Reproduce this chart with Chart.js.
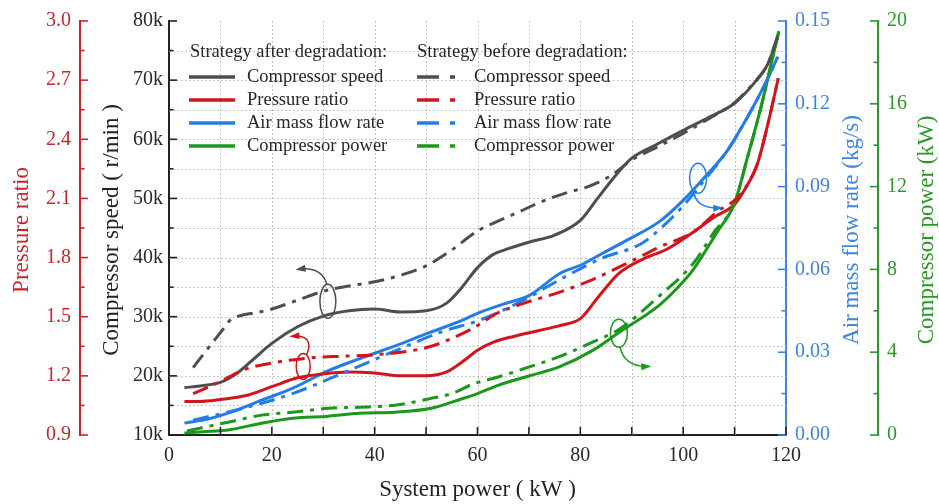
<!DOCTYPE html>
<html><head><meta charset="utf-8">
<script src="https://cdn.jsdelivr.net/npm/chart.js@4.4.0/dist/chart.umd.min.js"></script>
<style>html,body{margin:0;padding:0;background:#fff}#wrap{width:939px;height:504px;position:relative}</style>
</head><body><div id="wrap"><canvas id="c"></canvas></div>
<script>
// ---- tick labels ----
const xTicks = [0, 20, 40, 60, 80, 100, 120];
const speedTicks = [10000, 20000, 30000, 40000, 50000, 60000, 70000, 80000];
const prTicks = [0.9, 1.2, 1.5, 1.8, 2.1, 2.4, 2.7, 3.0];
const flowTicks = [0, 0.03, 0.06, 0.09, 0.12, 0.15];
const powerTicks = [0, 4, 8, 12, 16, 20];

// ---- series (x = system power, kW) ----
const speedAfterX = [3, 6, 10, 13, 16, 20, 25, 30, 35, 40, 45, 50, 54, 57, 60, 63, 66, 70, 75, 80, 83, 86.5, 90, 95, 100, 105, 110, 114, 116.5, 118.4];
const speedAfter  = [18000, 18300, 18900, 20300, 22500, 25500, 28300, 30100, 31000, 31300, 30800, 31000, 32300, 35000, 38300, 40500, 41500, 42600, 43800, 46300, 49600, 53500, 56800, 59200, 61500, 63700, 66100, 69700, 72800, 77300];
const speedBeforeX = [4.7, 7, 10, 12, 14, 17, 20, 25, 30, 35, 40, 45, 50, 55, 60, 63, 68, 72, 77.5, 81.5, 86, 90, 95, 100, 105, 110, 114, 116.5, 118.4];
const speedBefore  = [21400, 24000, 27300, 29500, 30200, 30700, 31300, 32800, 34300, 35200, 35900, 37000, 38600, 41300, 44500, 45800, 47700, 49300, 51000, 52000, 53900, 56500, 58700, 61000, 63500, 66200, 69800, 72800, 77500];

const prAfterX = [3, 6, 10, 15, 20, 25, 30, 35, 40, 45, 50, 54, 57, 60, 63, 67, 72, 76, 80, 83.5, 87.5, 92, 97, 102, 106, 110, 112, 114.5, 116.5, 118.5];
const prAfter  = [1.07, 1.07, 1.08, 1.10, 1.145, 1.19, 1.21, 1.22, 1.215, 1.20, 1.20, 1.22, 1.27, 1.33, 1.37, 1.40, 1.43, 1.455, 1.49, 1.60, 1.72, 1.79, 1.845, 1.93, 2.005, 2.07, 2.146, 2.28, 2.48, 2.71];
const prBeforeX = [4.7, 9.5, 15, 20, 27, 34, 40, 47, 51, 55, 59, 64, 69, 76, 82.5, 89, 95.5, 102, 107, 110, 112, 114.5, 116.5, 118.5];
const prBefore  = [1.11, 1.165, 1.235, 1.265, 1.29, 1.30, 1.307, 1.327, 1.35, 1.39, 1.44, 1.52, 1.568, 1.625, 1.69, 1.77, 1.855, 1.93, 2.04, 2.09, 2.15, 2.28, 2.48, 2.71];

const flowAfterX = [3, 8, 11.5, 18, 24, 31, 37, 44, 50.5, 57, 60, 65, 70, 76, 80, 84, 89, 95.5, 100, 104, 108.7, 112.6, 115.7, 118.4];
const flowAfter  = [0.0043, 0.006, 0.0079, 0.0126, 0.0169, 0.0233, 0.0276, 0.0323, 0.037, 0.0415, 0.0441, 0.0474, 0.0505, 0.0585, 0.0615, 0.0655, 0.0705, 0.0775, 0.085, 0.093, 0.1033, 0.1155, 0.1263, 0.137];
const flowBeforeX = [4.7, 14.5, 24, 34, 44, 53.5, 60, 68.5, 76, 84, 92, 96, 100, 104, 108.7, 112.6, 115.7, 118.4];
const flowBefore  = [0.0054, 0.0097, 0.015, 0.0226, 0.0305, 0.0377, 0.0413, 0.0484, 0.0563, 0.0639, 0.0695, 0.0755, 0.083, 0.092, 0.1033, 0.1155, 0.1263, 0.137];

const powerAfterX = [3, 8, 11.5, 18, 24, 31, 37, 44, 51, 57, 60, 64, 70, 76, 82.5, 87.5, 95.5, 100, 102, 106.6, 110, 112.6, 115.2, 117, 118.6];
const powerAfter  = [0.1, 0.18, 0.24, 0.57, 0.81, 0.91, 1.05, 1.1, 1.29, 1.75, 2.0, 2.4, 2.85, 3.3, 4.1, 4.95, 6.3, 7.4, 8.0, 9.8, 11.2, 13.5, 15.9, 17.8, 19.5];
const powerBeforeX = [3.5, 11.5, 18, 24, 31, 37, 44, 51, 55, 59, 64, 69, 76, 82.5, 87.5, 95.5, 102, 106, 110, 112.6, 115.2, 117, 118.6];
const powerBefore  = [0.2, 0.62, 0.96, 1.1, 1.29, 1.34, 1.44, 1.77, 2.0, 2.45, 2.8, 3.2, 3.8, 4.5, 5.1, 6.75, 8.3, 9.8, 11.2, 13.5, 15.9, 17.8, 19.5];

const seriesNames = ['Compressor speed', 'Pressure ratio', 'Air mass flow rate', 'Compressor power'];
const groupHeaders = ['Strategy after degradation:', 'Strategy before degradation:'];

// ---- style ----
const COL = {gray: 'rgb(78,78,78)', red: 'rgb(208,22,28)', blue: 'rgb(36,124,230)', green: 'rgb(26,152,26)'};
const AXC = {red: 'rgb(200,38,45)', dark: '#222', blue: 'rgb(62,132,224)', green: 'rgb(44,152,40)'};
const FONT = "'Liberation Serif', 'Times New Roman', serif";
const DASHDOT = [16, 7, 4, 7];
const pts = (xs, ys) => xs.map((x, i) => ({x: x, y: ys[i]}));

function ds(label, xs, ys, axis, color, dashed) {
  return {label: label, data: pts(xs, ys), yAxisID: axis, borderColor: color, borderWidth: 3,
    borderDash: dashed ? DASHDOT : [], pointRadius: 0, fill: false, cubicInterpolationMode: 'monotone'};
}

const tickFont = {family: FONT, size: 20};

function line(ctx, x1, y1, x2, y2) { ctx.beginPath(); ctx.moveTo(x1, y1); ctx.lineTo(x2, y2); ctx.stroke(); }

function drawScaleTicks(ctx, scale, values, base, dir, color, horizontal) {
  ctx.save();
  ctx.strokeStyle = color; ctx.lineWidth = 1.6; ctx.setLineDash([]);
  const mids = [];
  for (let i = 0; i < values.length - 1; i++) mids.push((values[i] + values[i + 1]) / 2);
  const draw = (v, len) => {
    const p = scale.getPixelForValue(v);
    if (horizontal) line(ctx, p, base, p, base + dir * len);
    else line(ctx, base, p, base + dir * len, p);
  };
  values.forEach(v => draw(v, 8));
  mids.forEach(v => draw(v, horizontal ? 8 : 4.5));
  ctx.restore();
}

function arrow(ctx, s, c, e, color) {
  ctx.save();
  ctx.strokeStyle = color; ctx.fillStyle = color; ctx.lineWidth = 1.5; ctx.setLineDash([]);
  ctx.beginPath(); ctx.moveTo(s[0], s[1]); ctx.quadraticCurveTo(c[0], c[1], e[0], e[1]); ctx.stroke();
  const ang = Math.atan2(e[1] - c[1], e[0] - c[0]);
  const L = 8, W = 3.5;
  ctx.beginPath();
  ctx.moveTo(e[0] + Math.cos(ang) * 2, e[1] + Math.sin(ang) * 2);
  ctx.lineTo(e[0] - Math.cos(ang) * L - Math.sin(ang) * W, e[1] - Math.sin(ang) * L + Math.cos(ang) * W);
  ctx.lineTo(e[0] - Math.cos(ang) * L + Math.sin(ang) * W, e[1] - Math.sin(ang) * L - Math.cos(ang) * W);
  ctx.closePath(); ctx.fill();
  ctx.restore();
}

function oval(ctx, c, rx, ry, color) {
  ctx.save(); ctx.strokeStyle = color; ctx.lineWidth = 1.5; ctx.setLineDash([]);
  ctx.beginPath(); ctx.ellipse(c[0], c[1], rx, ry, 0, 0, Math.PI * 2); ctx.stroke(); ctx.restore();
}

const deco = {
  id: 'deco',
  beforeDatasetsDraw(chart) {
    const {ctx, chartArea: a, scales: {x, speed}} = chart;
    ctx.save();
    ctx.strokeStyle = '#c6c6c6'; ctx.lineWidth = 1; ctx.setLineDash([2, 2]);
    for (let v = 10; v < 120; v += 10) { const p = Math.round(x.getPixelForValue(v)) + 0.5; line(ctx, p, a.top, p, a.bottom); }
    for (let v = 15000; v < 80000; v += 5000) { const p = Math.round(speed.getPixelForValue(v)) + 0.5; line(ctx, a.left, p, a.right, p); }
    ctx.restore();
  },
  afterDatasetsDraw(chart) {
    const {ctx, chartArea: a, scales: {x, speed, pr, flow, power}} = chart;
    // inward ticks
    drawScaleTicks(ctx, pr, prTicks, pr.right, 1, AXC.red, false);
    drawScaleTicks(ctx, speed, speedTicks, speed.right, 1, AXC.dark, false);
    drawScaleTicks(ctx, flow, flowTicks, flow.left, -1, AXC.blue, false);
    drawScaleTicks(ctx, power, powerTicks, power.left, -1, AXC.green, false);
    drawScaleTicks(ctx, x, xTicks, x.top, -1, AXC.dark, true);

    // annotations (placed in x / speed units)
    const P = (xv, sk) => [x.getPixelForValue(xv), speed.getPixelForValue(sk * 1000)];
    oval(ctx, P(30.9, 32.6), 8, 17, COL.gray);
    arrow(ctx, P(30.7, 35.5), P(29.6, 38.6), P(25.0, 38.0), COL.gray);
    oval(ctx, P(26.1, 21.6), 7, 13, COL.red);
    arrow(ctx, P(26.8, 23.6), P(28.4, 27.0), P(23.8, 26.7), COL.red);
    oval(ctx, P(102.9, 53.4), 8.5, 15, COL.blue);
    arrow(ctx, P(102.1, 51.0), P(102.6, 48.2), P(107.4, 48.4), COL.blue);
    oval(ctx, P(87.5, 27.2), 8.5, 14, COL.green);
    arrow(ctx, P(87.7, 24.9), P(88.6, 21.4), P(93.4, 21.6), COL.green);

    // legend
    ctx.save();
    ctx.font = '18.5px ' + FONT; ctx.textBaseline = 'middle'; ctx.fillStyle = '#262626';
    const L = a.left, T = a.top;
    ctx.fillText(groupHeaders[0], L + 21, T + 31);
    ctx.fillText(groupHeaders[1], L + 248, T + 31);
    const colors = [COL.gray, COL.red, COL.blue, COL.green];
    const rowY = [56, 79, 102, 125];
    for (let i = 0; i < 4; i++) {
      const y = T + rowY[i];
      ctx.strokeStyle = colors[i]; ctx.lineWidth = 3.5; ctx.setLineDash([]);
      line(ctx, L + 20, y, L + 66, y);
      line(ctx, L + 248, y, L + 270, y);
      line(ctx, L + 281, y, L + 286, y);
      ctx.fillStyle = '#262626';
      ctx.fillText(seriesNames[i], L + 78, y);
      ctx.fillText(seriesNames[i], L + 305, y);
    }
    ctx.restore();

    // axis titles
    const cy = (a.top + a.bottom) / 2;
    ctx.save();
    ctx.font = '23px ' + FONT; ctx.textAlign = 'center'; ctx.textBaseline = 'middle';
    const vt = (txt, px, color) => { ctx.save(); ctx.translate(px, cy + 2); ctx.rotate(-Math.PI / 2); ctx.fillStyle = color; ctx.fillText(txt, 0, 0); ctx.restore(); };
    vt('Pressure ratio', pr.left + 22, AXC.red);
    vt('Compressor speed ( r/min )', speed.left + 32, AXC.dark);
    vt('Air mass flow rate (kg/s)', flow.left + 66, AXC.blue);
    vt('Compressor power (kW)', power.left + 49, AXC.green);
    ctx.fillStyle = AXC.dark;
    ctx.fillText('System power ( kW )', (a.left + a.right) / 2, x.top + 55);
    ctx.restore();
  }
};

const setTicks = arr => s => { s.ticks = arr.map(v => ({value: v})); };
const fixW = w => s => { s.width = w; };

new Chart(document.getElementById('c'), {
  type: 'line',
  data: {datasets: [
    ds('Compressor speed (before)', speedBeforeX, speedBefore, 'speed', COL.gray, true),
    ds('Pressure ratio (before)', prBeforeX, prBefore, 'pr', COL.red, true),
    ds('Air mass flow rate (before)', flowBeforeX, flowBefore, 'flow', COL.blue, true),
    ds('Compressor power (before)', powerBeforeX, powerBefore, 'power', COL.green, true),
    ds('Compressor speed (after)', speedAfterX, speedAfter, 'speed', COL.gray, false),
    ds('Pressure ratio (after)', prAfterX, prAfter, 'pr', COL.red, false),
    ds('Air mass flow rate (after)', flowAfterX, flowAfter, 'flow', COL.blue, false),
    ds('Compressor power (after)', powerAfterX, powerAfter, 'power', COL.green, false)
  ]},
  options: {
    responsive: true, maintainAspectRatio: false, animation: false,
    layout: {padding: {top: 17, left: 0, right: 0, bottom: 0}},
    plugins: {legend: {display: false}, tooltip: {enabled: false}},
    scales: {
      x: {type: 'linear', position: 'bottom', min: 0, max: 120,
        afterBuildTicks: setTicks(xTicks), afterFit: s => { s.height = 69; },
        grid: {display: false, drawTicks: false}, border: {color: AXC.dark, width: 2},
        ticks: {font: tickFont, color: '#2a2a2a', padding: 9, maxRotation: 0, autoSkip: false}},
      pr: {type: 'linear', position: 'left', weight: 1, min: 0.9, max: 3.0,
        afterBuildTicks: setTicks(prTicks), afterFit: fixW(80),
        grid: {display: false, drawTicks: false}, border: {color: AXC.red, width: 2},
        ticks: {font: tickFont, color: AXC.red, padding: 9, callback: v => v.toFixed(1)}},
      speed: {type: 'linear', position: 'left', weight: 0, min: 10000, max: 80000,
        afterBuildTicks: setTicks(speedTicks), afterFit: fixW(89),
        grid: {display: false, drawTicks: false}, border: {color: AXC.dark, width: 2},
        ticks: {font: tickFont, color: '#2a2a2a', padding: 6, callback: v => (v / 1000) + 'k'}},
      flow: {type: 'linear', position: 'right', weight: 0, min: 0, max: 0.15,
        afterBuildTicks: setTicks(flowTicks), afterFit: fixW(92),
        grid: {display: false, drawTicks: false}, border: {color: AXC.blue, width: 2},
        ticks: {font: tickFont, color: AXC.blue, padding: 9, callback: v => v.toFixed(2)}},
      power: {type: 'linear', position: 'right', weight: 1, min: 0, max: 20,
        afterBuildTicks: setTicks(powerTicks), afterFit: fixW(61),
        grid: {display: false, drawTicks: false}, border: {color: AXC.green, width: 2},
        ticks: {font: tickFont, color: AXC.green, padding: 9, callback: v => String(v)}}
    }
  },
  plugins: [deco]
});
</script>
</body></html>
